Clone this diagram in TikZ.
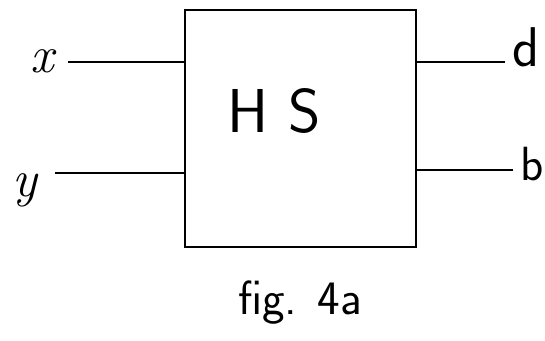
\documentclass[tikz,border=0pt]{standalone}
\usetikzlibrary{positioning}
\begin{document}
\begin{tikzpicture}[x=1pt, y=-1pt, >=stealth,
  wire/.style={line width=2pt},
  sig/.style={inner sep=0pt, font=\fontsize{52}{52}\selectfont}]
  \useasboundingbox (0,0) rectangle (545,340);
  %% Block: half subtractor
  \node[draw, line width=2.4pt, minimum width=231pt, minimum height=237pt] (hs) at (300.5,128.5) {};
  \node[font=\sffamily\fontsize{62}{62}\selectfont] (hsname) at (274,111) {H S};
  \node[font=\sffamily\fontsize{48}{48}\selectfont] (cap) at (300,303) {fig. 4a};

  %% Inputs
  \coordinate (xend) at (68,62);
  \coordinate (yend) at (55,173);
  \node[sig] (xlbl) at (42,61) {\itshape x};
  \node[sig] (ylbl) at (25,190) {\itshape y};
  \draw[wire] (xend) -- (hs.west |- xend);
  \draw[wire] (yend) -- (hs.west |- yend);

  %% Outputs
  \coordinate (dend) at (505,62);
  \coordinate (bend) at (513,170);
  \node[sig,font=\sffamily\fontsize{56}{56}\selectfont] (dlbl) at (526,47) {d};
  \node[sig,font=\sffamily\fontsize{48}{48}\selectfont] (blbl) at (532,164) {b};
  \draw[wire] (hs.east |- dend) -- (dend);
  \draw[wire] (hs.east |- bend) -- (bend);
\end{tikzpicture}
\end{document}
